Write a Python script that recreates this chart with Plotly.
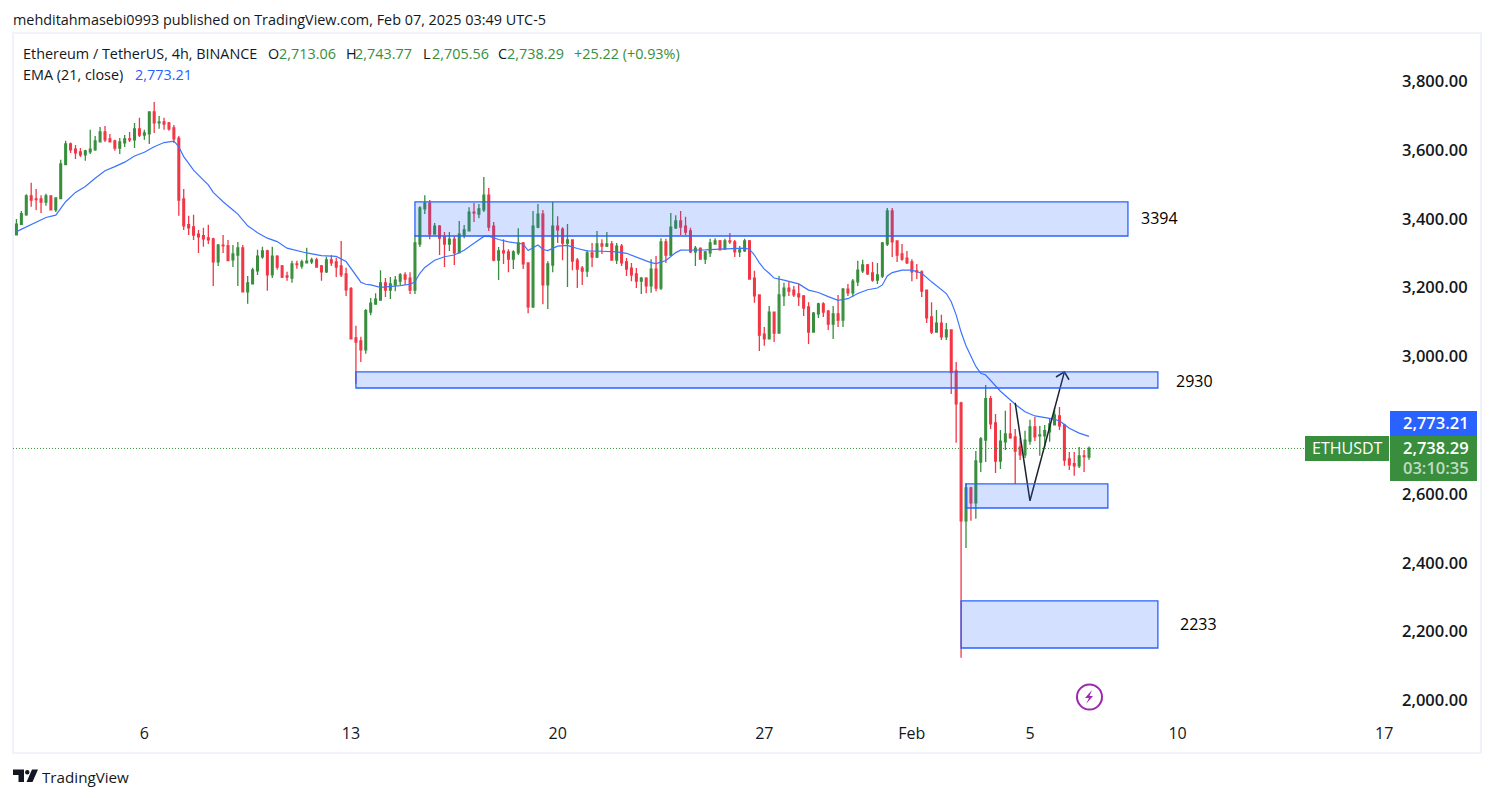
import pandas as pd
import plotly.graph_objects as go

W, H = 1494, 798
PANE_L, PANE_R, PANE_T, PANE_B = 13, 1389, 34, 718
FONT = "Open Sans"
INK = "#131722"
GREEN = "#388E3C"
RED = "#F23645"
BLUE = "#2962FF"

# Last (live) candle, as printed in the chart header
last_open, last_high, last_low, last_close = 2713.06, 2743.77, 2705.56, 2738.29
last_ema = 2773.21

# Values read against the tick-label centres, which sit a little above the true price level
READING_BIAS = 6.7

opens_read = [
    3353,3383,3411,3466,3457,3457,3448,3466,3425,3458,
    3557,3617,3602,3594,3585,3594,3600,3623,3652,3632,
    3626,3605,3620,3632,3629,3661,3643,3646,3710,3678,
    3681,3678,3664,3634,3457,3382,3376,3355,3350,3344,
    3341,3274,3323,3321,3280,3294,3315,3187,3210,3248,
    3289,3306,3236,3291,3262,3233,3227,3268,3262,3271,
    3274,3280,3262,3245,3280,3274,3262,3239,3196,3053,
    3044,3018,3128,3151,3163,3213,3192,3207,3218,3236,
    3227,3192,3326,3428,3445,3355,3378,3346,3326,3340,
    3300,3352,3364,3419,3413,3425,3468,3378,3279,3306,
    3303,3282,3300,3329,3271,3143,3375,3413,3207,3265,
    3378,3369,3329,3338,3279,3256,3247,3300,3288,3326,
    3320,3326,3279,3320,3274,3256,3239,3218,3227,3204,
    3253,3198,3332,3294,3373,3393,3378,3364,3303,3314,
    3282,3300,3326,3335,3311,3335,3332,3303,3306,3335,
    3227,3178,3064,3050,3128,3067,3175,3198,3192,3181,
    3175,3143,3070,3123,3152,3131,3093,3123,3105,3195,
    3184,3216,3248,3265,3242,3221,3233,3326,3422,3335,
    3297,3285,3274,3248,3245,3192,3114,3070,3096,3056,
    3076,2957,2864,2521,2617,2573,2692,2756,2876,2806,
    2695,2751,2774,2765,2736,2713,2753,2794,2768,2768,
    2780,2800,2826,2800,2701,2687,2681,2710,
]
highs_read = [
    3399,3422,3471,3504,3486,3468,3472,3468,3462,3571,
    3626,3621,3614,3605,3600,3658,3640,3666,3669,3646,
    3629,3634,3643,3652,3678,3693,3658,3712,3739,3698,
    3693,3681,3672,3640,3486,3408,3411,3367,3373,3382,
    3344,3326,3352,3338,3323,3332,3323,3233,3257,3309,
    3318,3309,3318,3293,3265,3245,3277,3277,3280,3315,
    3286,3286,3265,3289,3294,3286,3335,3257,3201,3088,
    3056,3137,3169,3183,3250,3227,3230,3233,3242,3244,
    3244,3352,3436,3468,3454,3387,3381,3361,3361,3349,
    3393,3381,3433,3445,3442,3521,3489,3390,3317,3340,
    3311,3308,3372,3332,3273,3422,3442,3425,3276,3448,
    3407,3375,3384,3340,3285,3262,3308,3329,3364,3340,
    3361,3335,3329,3326,3285,3271,3256,3230,3229,3282,
    3291,3343,3341,3416,3410,3422,3405,3373,3320,3316,
    3306,3341,3343,3338,3341,3358,3338,3320,3341,3338,
    3248,3180,3085,3146,3130,3233,3213,3216,3204,3210,
    3178,3157,3128,3155,3157,3134,3146,3178,3198,3210,
    3224,3277,3280,3268,3274,3271,3332,3431,3431,3337,
    3326,3306,3282,3268,3250,3194,3157,3134,3120,3096,
    3078,2983,2867,2631,2620,2724,2765,2916,2884,2832,
    2785,2841,2864,2788,2762,2783,2815,2823,2797,2800,
    2817,2849,2852,2803,2721,2721,2736,2727,
]
lows_read = [
    3351,3383,3408,3434,3425,3416,3437,3425,3419,3456,
    3555,3591,3573,3579,3568,3588,3597,3621,3623,3621,
    3597,3588,3608,3623,3605,3637,3629,3617,3649,3661,
    3658,3655,3620,3408,3367,3352,3338,3300,3318,3326,
    3204,3262,3300,3276,3259,3204,3186,3152,3208,3236,
    3283,3190,3227,3251,3227,3219,3213,3254,3254,3270,
    3268,3258,3219,3242,3262,3230,3230,3175,3048,2920,
    2983,3007,3119,3150,3162,3172,3166,3189,3207,3207,
    3181,3181,3317,3413,3340,3354,3294,3259,3306,3265,
    3299,3343,3363,3390,3401,3419,3364,3276,3221,3268,
    3244,3253,3294,3253,3125,3140,3372,3151,3137,3244,
    3329,3279,3201,3250,3198,3207,3230,3259,3285,3297,
    3317,3278,3268,3262,3233,3218,3198,3181,3183,3184,
    3189,3192,3271,3291,3370,3352,3352,3300,3262,3280,
    3268,3288,3325,3308,3309,3326,3288,3288,3303,3223,
    3155,3015,3030,3049,3041,3066,3146,3175,3172,3146,
    3117,3035,3069,3111,3114,3076,3050,3085,3085,3175,
    3172,3204,3242,3236,3216,3210,3227,3320,3288,3274,
    3277,3268,3218,3224,3172,3096,3064,3069,3047,3047,
    2890,2748,2123,2442,2521,2527,2663,2692,2788,2660,
    2672,2727,2760,2628,2698,2704,2742,2753,2710,2736,
    2751,2799,2785,2681,2669,2652,2675,2663,
]
closes_read = [
    3384,3414,3466,3454,3455,3448,3466,3425,3460,3559,
    3617,3600,3591,3585,3597,3602,3626,3652,3629,3623,
    3605,3623,3632,3629,3661,3643,3649,3710,3678,3681,
    3675,3661,3632,3454,3379,3373,3352,3347,3341,3338,
    3274,3323,3321,3278,3297,3315,3187,3213,3251,3291,
    3306,3236,3291,3259,3230,3230,3268,3266,3274,3276,
    3280,3259,3245,3280,3271,3259,3236,3193,3050,3041,
    3018,3132,3154,3166,3213,3192,3210,3221,3236,3224,
    3192,3329,3431,3445,3355,3378,3343,3326,3340,3300,
    3355,3367,3419,3416,3428,3468,3375,3279,3306,3300,
    3282,3303,3329,3268,3143,3378,3413,3207,3268,3378,
    3367,3329,3338,3276,3253,3247,3300,3288,3326,3320,
    3326,3279,3320,3271,3253,3236,3218,3227,3204,3253,
    3198,3332,3294,3375,3393,3375,3361,3303,3314,3282,
    3303,3329,3335,3309,3335,3332,3303,3309,3335,3224,
    3175,3061,3050,3128,3067,3178,3198,3189,3178,3172,
    3140,3070,3125,3152,3128,3093,3123,3105,3195,3184,
    3218,3250,3265,3239,3221,3236,3329,3422,3332,3294,
    3282,3271,3245,3245,3189,3111,3070,3096,3056,3076,
    2952,2861,2521,2617,2573,2695,2759,2876,2803,2695,
    2753,2774,2762,2724,2713,2756,2794,2765,2771,2783,
    2803,2829,2797,2698,2684,2681,2710,2708,
]
ema_candle = [
    0,3,6,8,10,12,14,16,18,20,22,24,26,28,30,32,33,34,36,38,39,40,42,44,45,47,49,51,53,55,57,59,62,65,67,69,70,71,
    72,74,76,78,80,81,82,83,85,87,89,91,93,95,96,98,100,102,103,104,105,106,107,108,110,112,114,116,119,122,124,126,128,
    129,130,132,134,135,137,140,143,146,148,149,150,151,152,153,154,156,159,161,163,165,167,169,171,173,175,176,177,178,
    180,182,184,186,188,189,190,191,192,193,195,196,197,199,200,203,205,207,210,212,214,216,
]
ema_read = [
    3362,3383,3403,3410,3449,3476,3493,3517,3539,3551,3564,3582,3593,3609,3621,3625,3609,3580,3541,3512,3498,3476,3449,3425,3413,3379,3359,3343,3333,3314,3306,3300,3292,3290,3275,3236,3215,3209,
    3207,3200,3202,3205,3209,3216,3241,3258,3279,3289,3294,3308,3328,3348,3349,3339,3332,3329,3326,3307,3315,3323,3310,3307,3320,3322,3313,3306,3305,3303,3299,3287,3277,
    3272,3269,3278,3301,3308,3308,3309,3311,3313,3314,3311,3294,3271,3253,3241,3227,3221,3210,3192,3185,3173,3162,3167,3182,3193,3198,3207,3233,3243,
    3250,3250,3241,3216,3194,3182,3158,3120,3070,3030,2970,2950,2945,2912,2898,2860,2838,2826,2819,2812,2790,2776,
]

opens = [v + READING_BIAS for v in opens_read] + [last_open]
highs = [v + READING_BIAS for v in highs_read] + [last_high]
lows = [v + READING_BIAS for v in lows_read] + [last_low]
closes = [v + READING_BIAS for v in closes_read] + [last_close]
times = pd.date_range(end="2025-02-07 03:00", periods=len(opens), freq="4h")
ema_times = [times[i] for i in ema_candle] + [times[-1]]
ema_values = [v + READING_BIAS for v in ema_read] + [last_ema]

# Drawn zones: start, end, top price, bottom price, label
zone_start = [times[81], times[69], times[193], times[192]]
zone_end = ["2025-02-08 10:40", "2025-02-09 11:00", "2025-02-07 18:20", "2025-02-09 11:00"]
zone_top = [3455, 2961, 2635, 2295]
zone_bottom = [3356, 2914, 2565, 2158]
zone_labels = ["3394", "2930", "", "2233"]

# Hand-drawn projection
path_times = [times[203], times[206], times[213]]
path_prices = [2871, 2586, 2961]
head_times = ["2025-02-06 00:10", times[213], "2025-02-06 10:45"]
head_prices = [2946, 2961, 2938]

y_ticks = [2000, 2200, 2400, 2600, 3000, 3200, 3400, 3600, 3800]
x_tick_dates = ["2025-01-06 03:00", "2025-01-13 03:00", "2025-01-20 03:00", "2025-01-27 03:00",
                "2025-02-01 03:00", "2025-02-05 03:00", "2025-02-10 03:00", "2025-02-17 03:00"]
x_tick_text = ["6", "13", "20", "27", "Feb", "5", "10", "17"]


def px(x):
    return (x - PANE_L) / (PANE_R - PANE_L)


def py(y):
    return (PANE_B - y) / (PANE_B - PANE_T)


fig = go.Figure()
fig.add_trace(go.Candlestick(
    x=times, open=opens, high=highs, low=lows, close=closes,
    increasing=dict(line=dict(color=GREEN, width=1.3), fillcolor=GREEN),
    decreasing=dict(line=dict(color=RED, width=1.3), fillcolor=RED),
    whiskerwidth=0, showlegend=False, hoverinfo="skip",
))
fig.add_trace(go.Scatter(x=ema_times, y=ema_values, mode="lines",
                         line=dict(color="#3B74FF", width=1.2), showlegend=False, hoverinfo="skip"))
fig.add_trace(go.Scatter(x=path_times, y=path_prices, mode="lines",
                         line=dict(color="#1E222D", width=1.5), showlegend=False, hoverinfo="skip"))
fig.add_trace(go.Scatter(x=head_times, y=head_prices, mode="lines",
                         line=dict(color="#1E222D", width=1.5), showlegend=False, hoverinfo="skip"))

shapes = []
annotations = []


def chrome_rect(x0, y0, x1, y1, **kw):
    shapes.append(dict(type="rect", xref="paper", yref="paper", x0=px(x0), x1=px(x1), y0=py(y0), y1=py(y1), **kw))


def text(x, y, s, size=14.4, color=INK, anchor="left", weight=None):
    annotations.append(dict(
        xref="paper", yref="paper", x=px(x), y=py(y), text=s, showarrow=False,
        xanchor=anchor, yanchor="middle", align=anchor,
        font=dict(family=FONT, size=size, color=color, weight=weight), borderpad=0, borderwidth=0))


# Chart frame
chrome_rect(13, 33, 1481, 753, line=dict(color="#F0F3FA", width=2), fillcolor="rgba(0,0,0,0)", layer="below")

# Zones
for x0, x1, top, bottom in zip(zone_start, zone_end, zone_top, zone_bottom):
    shapes.append(dict(type="rect", xref="x", yref="y", x0=x0, x1=x1, y0=bottom, y1=top,
                       line=dict(color=BLUE, width=1.3), fillcolor="rgba(41,98,255,0.2)"))
text(1159.5, 218, zone_labels[0], size=16, color="#000000", anchor="center")
text(1194, 381, zone_labels[1], size=16, color="#000000", anchor="center")
text(1198.5, 624, zone_labels[3], size=16, color="#000000", anchor="center")

# Last-price line
shapes.append(dict(type="line", xref="paper", yref="y", x0=0, x1=px(1305), y0=last_close, y1=last_close,
                   line=dict(color=GREEN, width=1, dash="1px,2px")))

# Price labels
chrome_rect(1390, 411, 1477, 436, line=dict(width=0), fillcolor=BLUE)
chrome_rect(1390, 436, 1477, 481, line=dict(width=0), fillcolor=GREEN)
chrome_rect(1305, 436, 1389, 461, line=dict(width=0), fillcolor=GREEN)
text(1436, 422, f"{last_ema:,.2f}", size=16.5, color="#FFFFFF", anchor="center", weight=600)
text(1436, 447, f"{last_close:,.2f}", size=16.5, color="#FFFFFF", anchor="center", weight=600)
text(1436, 467, "03:10:35", size=16.5, color="rgba(255,255,255,0.7)", anchor="center", weight=600)
text(1347, 448, "ETHUSDT", size=16, color="#FFFFFF", anchor="center")

# Header and legend
text(13, 19.5, "mehditahmasebi0993 published on TradingView.com, Feb 07, 2025 03:49 UTC-5")
text(23, 53.5, "Ethereum / TetherUS, 4h, BINANCE")
text(268, 53.5, "O")
text(279, 53.5, f"{last_open:,.2f}", color=GREEN)
text(346, 53.5, "H")
text(355, 53.5, f"{last_high:,.2f}", color=GREEN)
text(423, 53.5, "L")
text(432, 53.5, f"{last_low:,.2f}", color=GREEN)
text(498, 53.5, "C")
text(507, 53.5, f"{last_close:,.2f}", color=GREEN)
text(574, 53.5, "+25.22 (+0.93%)", color=GREEN)
text(23, 74.5, "EMA (21, close)")
text(135, 74.5, f"{last_ema:,.2f}", color=BLUE)

# Logo
logo = (f"M {px(13)} {py(769.5)} L {px(24)} {py(769.5)} L {px(24)} {py(782)} L {px(18.5)} {py(782)} "
        f"L {px(18.5)} {py(775)} L {px(13)} {py(775)} Z "
        f"M {px(32)} {py(769.5)} L {px(38)} {py(769.5)} L {px(32.5)} {py(782)} L {px(26.5)} {py(782)} Z")
shapes.append(dict(type="path", xref="paper", yref="paper", path=logo, fillcolor="#131722", line=dict(width=0)))
shapes.append(dict(type="circle", xref="paper", yref="paper", x0=px(25), x1=px(29.5), y0=py(774.5), y1=py(770),
                   fillcolor="#131722", line=dict(width=0)))
text(42, 776.5, "TradingView", size=15.2)

# Lightning badge
shapes.append(dict(type="circle", xref="paper", yref="paper", x0=px(1077), x1=px(1102), y0=py(709.5), y1=py(684.5),
                   fillcolor="#FFFFFF", line=dict(color="#9C27B0", width=2)))
bolt = (f"M {px(1092)} {py(690)} L {px(1085)} {py(698)} L {px(1089)} {py(698)} L {px(1086)} {py(704)} "
        f"L {px(1093)} {py(696)} L {px(1089.5)} {py(696)} Z")
shapes.append(dict(type="path", xref="paper", yref="paper", path=bolt, fillcolor="#9C27B0", line=dict(width=0)))

fig.update_layout(
    width=W, height=H, autosize=False,
    margin=dict(l=PANE_L, r=W - PANE_R, t=PANE_T, b=H - PANE_B, pad=0),
    paper_bgcolor="#FFFFFF", plot_bgcolor="#FFFFFF",
    boxgap=0.5, showlegend=False,
    shapes=shapes, annotations=annotations,
    font=dict(family=FONT, color=INK),
    xaxis=dict(
        type="date", range=["2025-01-01 16:12", "2025-02-17 06:54"],
        rangeslider=dict(visible=False), showgrid=False, zeroline=False, showline=False, ticks="",
        tickmode="array", tickvals=x_tick_dates, ticktext=x_tick_text,
        tickfont=dict(family=FONT, size=16, color=INK),
        ticklabelstandoff=4,
    ),
    yaxis=dict(
        side="right", range=[1954.4, 3943.4], showgrid=False, zeroline=False, showline=False, ticks="",
        tickmode="array", tickvals=y_ticks, tickformat=",.2f",
        tickfont=dict(family=FONT, size=16.5, color=INK, weight=600),
        ticklabelstandoff=12, ticklabelshift=-2,
    ),
)

fig.write_html("out.html", config={"displayModeBar": False},
               post_script="document.body.style.margin='0';document.documentElement.style.overflow='hidden';")
